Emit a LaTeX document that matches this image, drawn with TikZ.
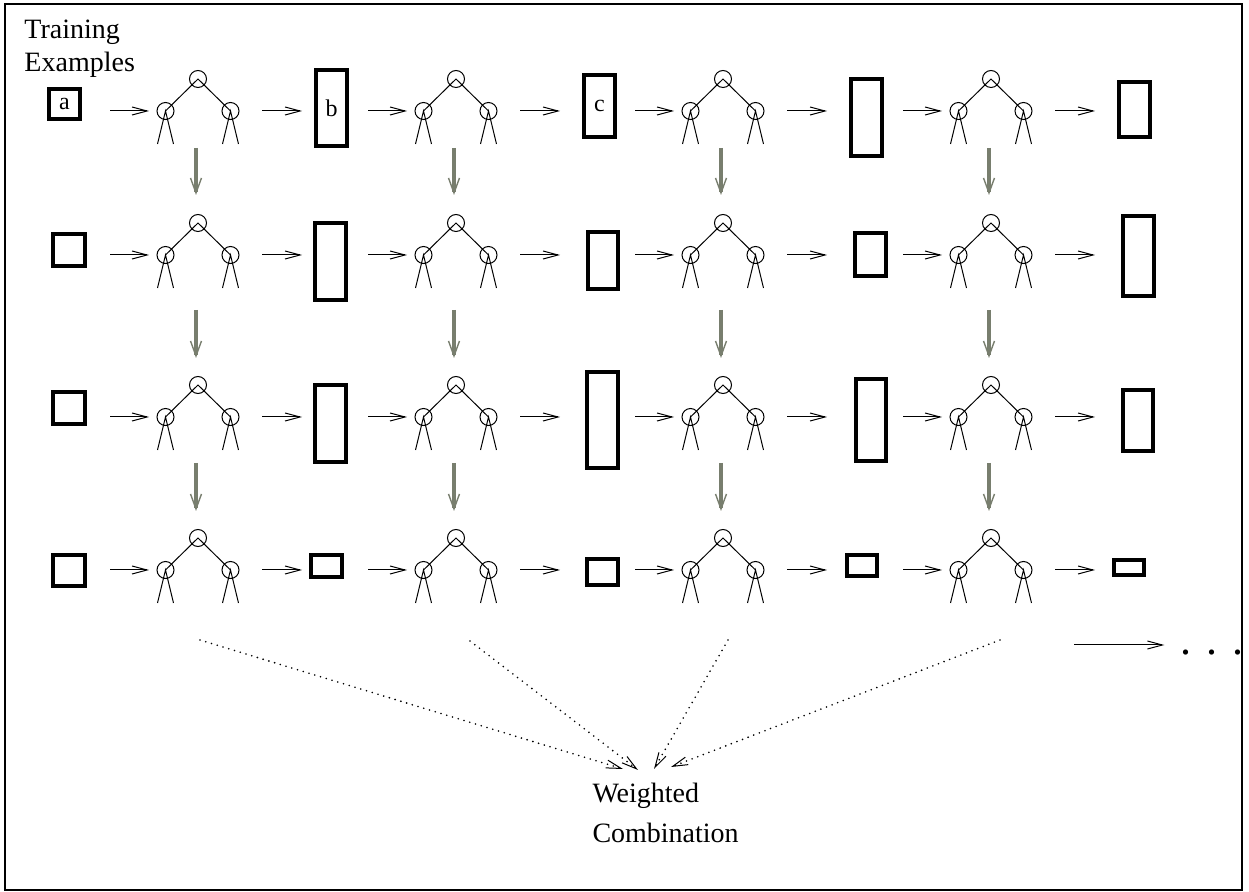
\documentclass[tikz,border=0pt]{standalone}
\usepackage{fontspec}
\setmainfont{Liberation Serif}
\usetikzlibrary{arrows.meta}
\definecolor{stone}{RGB}{120,126,110}

% one small decision tree: #1 name, #2 x, #3 y of its two children
\newcommand{\dectree}[3]{%
  \node[knot] (#1t) at (#2,#3-32) {};
  \node[knot] (#1l) at (#2-32.5,#3) {};
  \node[knot] (#1r) at (#2+32.5,#3) {};
  \draw (#1l.center) -- (#1t.center) -- (#1r.center);
  \draw ([shift={(-8,33)}]#1l.center) -- (#1l.center) -- ([shift={(8,33)}]#1l.center);
  \draw ([shift={(-8,33)}]#1r.center) -- (#1r.center) -- ([shift={(8,33)}]#1r.center);
  \coordinate (#1pre) at (#2-88,#3);
  \coordinate (#1in) at (#2-49,#3);
  \coordinate (#1out) at (#2+64,#3);
  \coordinate (#1post) at (#2+104,#3);
}

\begin{document}
\begin{tikzpicture}[x=0.5pt,y=-0.5pt,line width=0.5pt,
  knot/.style={circle,draw,inner sep=0pt,minimum size=8.5pt},
  sample/.style={draw,line width=1.8pt,inner sep=0pt,font=\fontsize{12}{14}\selectfont},
  label/.style={anchor=north west,inner sep=0pt,align=left},
  arr/.style={-{Straight Barb[length=7.5pt,width=4pt,line width=0.5pt]}},
  down/.style={-{Straight Barb[length=7.5pt,width=5.5pt,line width=0.7pt]},line width=1.6pt,draw=stone},
  comb/.style={arr,line width=0.9pt,line cap=round,dash pattern=on 0pt off 3pt}]
\useasboundingbox (0,0) rectangle (1249,892);
\draw[line width=1pt] (5,4) rectangle (1242,890);

\node[label,font=\fontsize{14}{16.5}\selectfont] (train) at (24,19) {Training\\Examples};

% the trees, four rows of four
\foreach \row/\y in {1/111,2/255,3/417,4/570}
  \foreach \col/\x in {1/198,2/456,3/723,4/991}
  {
    \dectree{t\row\col}{\x}{\y}
    \draw[arr] (t\row\col pre) -- (t\row\col in);
    \draw[arr] (t\row\col out) -- (t\row\col post);
  }

% the reweighted examples
\foreach \n/\xa/\ya/\xb/\yb/\txt in {
    s10/47/87/82/121/a, s11/314/68/349/148/b, s12/582/73/617/139/c,
    s13/849/77/884/158/{}, s14/1117/80/1152/139/{},
    s20/51/232/87/268/{}, s21/313/221/348/302/{}, s22/586/230/620/291/{},
    s23/853/231/888/278/{}, s24/1121/214/1156/298/{},
    s30/51/390/87/426/{}, s31/313/383/348/464/{}, s32/585/370/620/470/{},
    s33/854/377/888/463/{}, s34/1121/388/1155/453/{},
    s40/51/553/87/588/{}, s41/309/553/344/579/{}, s42/585/557/620/587/{},
    s43/845/553/879/578/{}, s44/1112/558/1146/577/{}}
  \node[sample,minimum width={(\xb-\xa-3.6)*0.5pt},minimum height={(\yb-\ya-3.6)*0.5pt}]
    (\n) at ({(\xa+\xb)/2},{(\ya+\yb)/2}) {\txt};

% grey arrows from one row of trees to the next
\foreach \row/\nxt/\s/\e in {1/2/34.5/14,2/3/43.5/13.5,3/4/39/13.5}
  \foreach \col in {1,...,4}
    \draw[down,shorten <=\s pt,shorten >=\e pt]
      ([xshift=-1pt]t\row\col t.center) -- ([xshift=-1pt]t\nxt\col t.center);

% more rounds
\coordinate (more) at (1074,645);
\node[anchor=base,inner sep=0pt,font=\fontsize{22}{24}\selectfont] (dots) at (1212,655) {. . .};
\draw[arr,shorten >=8pt] (more) -- (dots.west |- more);

% the vote
\node[label,font=\fontsize{14}{20}\selectfont] (vote) at (592,783) {Weighted\\Combination};
\foreach \i/\xa/\ya/\xb/\yb in {1/200/640/623/769,2/470/641/638/770,3/728/640/654/769,4/1000/640/671/767}
{
  \coordinate (v\i) at (\xa,\ya);
  \coordinate (w\i) at (\xb,\yb);
  \draw[comb] (v\i) -- (w\i);
}
\end{tikzpicture}
\end{document}
